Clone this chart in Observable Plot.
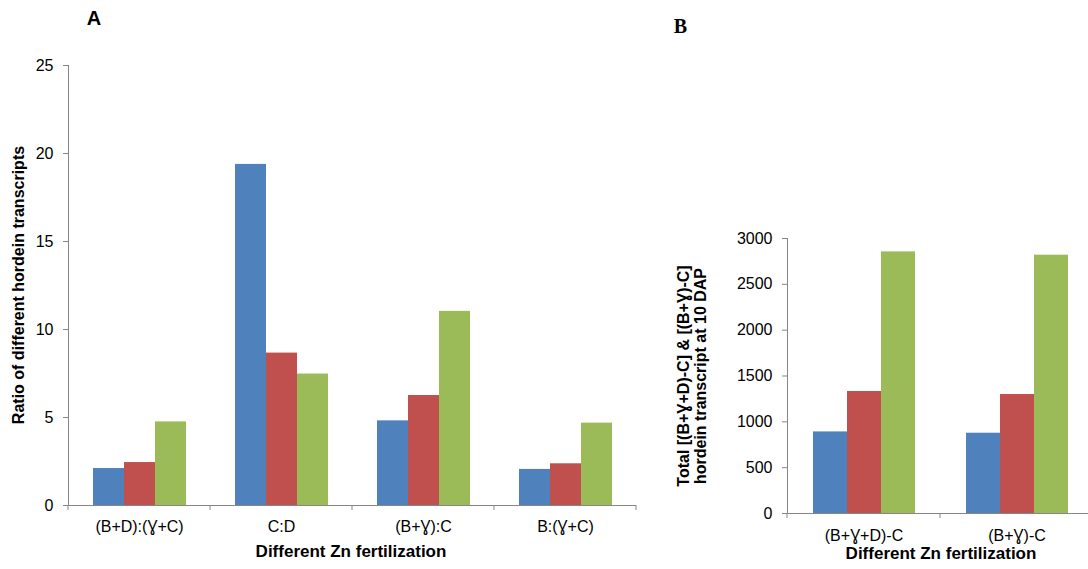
<!DOCTYPE html>
<html>
<head>
<meta charset="utf-8">
<script src="https://cdn.jsdelivr.net/npm/d3@7"></script>
<script src="https://cdn.jsdelivr.net/npm/@observablehq/plot@0.6"></script>
<style>
  html, body { margin: 0; padding: 0; background: #fff; overflow: hidden; }
  #wrap { position: relative; width: 1088px; height: 569px; overflow: hidden; background: #fff; }
  #wrap svg.plot { position: absolute; top: 0; }
  #wrap g[aria-label="y-axis tick label"], #wrap g[aria-label="fx-axis tick label"] { fill: #000; }
  #overlay { position: absolute; left: 0; top: 0; pointer-events: none; }
</style>
</head>
<body>
<div id="wrap"></div>
<script>
// ---- Data ----
const seriesNames = ["Series 1", "Series 2", "Series 3"];
const seriesColors = ["#4F81BD", "#C0504D", "#9BBB59"];

// Panel A: ratio of different hordein transcripts
const categoriesA = ["(B+D):(Ɣ+C)", "C:D", "(B+Ɣ):C", "B:(Ɣ+C)"];
const series1A = [2.10, 19.38, 4.81, 2.05];
const series2A = [2.44, 8.66, 6.25, 2.37];
const series3A = [4.75, 7.47, 11.03, 4.68];
const yTicksA = [0, 5, 10, 15, 20, 25];

// Panel B: total hordein transcript at 10 DAP
const categoriesB = ["(B+Ɣ+D)-C", "(B+Ɣ)-C"];
const series1B = [890, 876];
const series2B = [1331, 1298];
const series3B = [2854, 2818];
const yTicksB = [0, 500, 1000, 1500, 2000, 2500, 3000];

const gray = "#868686";
const sans = "'Liberation Sans', Arial, Helvetica, sans-serif";

function toRows(cats, s1, s2, s3) {
  return cats.flatMap((c, i) => [
    {cat: c, series: seriesNames[0], value: s1[i]},
    {cat: c, series: seriesNames[1], value: s2[i]},
    {cat: c, series: seriesNames[2], value: s3[i]}
  ]);
}

function makeChart(o) {
  const rows = toRows(o.cats, o.s1, o.s2, o.s3);
  const plot = Plot.plot({
    width: o.width, height: o.height,
    marginTop: o.mt, marginBottom: o.mb, marginLeft: o.ml, marginRight: o.mr,
    style: {fontFamily: sans, fontSize: "16px", color: gray, background: "transparent", overflow: "visible"},
    fx: {domain: o.cats, padding: 0, axis: "bottom", label: null, tickSize: 0, tickPadding: o.catPad},
    x: {domain: seriesNames, paddingInner: 0, paddingOuter: 0.75, axis: null},
    y: {domain: [0, o.yMax], ticks: o.yTicks, tickFormat: d => String(d), tickSize: 5, tickPadding: 10, label: null, line: true},
    color: {domain: seriesNames, range: seriesColors},
    marks: [
      Plot.barY(rows, {fx: "cat", x: "series", y: "value", fill: "series"}),
      Plot.ruleY([0], {stroke: gray})
    ]
  });
  plot.classList.add("plot");
  // category boundary tick marks below the baseline
  const fx = plot.scale("fx"), y = plot.scale("y");
  const y0 = y.apply(0);
  const xs = fx.domain.map(d => fx.apply(d));
  xs.push(xs[xs.length - 1] + fx.bandwidth);
  d3.select(plot).append("g").attr("stroke", gray)
    .selectAll("line").data(xs).join("line")
    .attr("x1", d => d).attr("x2", d => d).attr("y1", y0).attr("y2", y0 + 5);
  plot.style.left = o.left + "px";
  return plot;
}

const wrap = document.getElementById("wrap");

wrap.appendChild(makeChart({
  cats: categoriesA, s1: series1A, s2: series2A, s3: series3A,
  yMax: 25, yTicks: yTicksA,
  width: 660, height: 569, mt: 65, mb: 64, ml: 67, mr: 23, catPad: 15, left: 0
}));

wrap.appendChild(makeChart({
  cats: categoriesB, s1: series1B, s2: series2B, s3: series3B,
  yMax: 3000, yTicks: yTicksB,
  width: 453, height: 569, mt: 238, mb: 56, ml: 147, mr: 0, catPad: 16, left: 640
}));

// ---- Text overlay (panel letters and axis titles) ----
const ov = d3.select(wrap).append("svg").attr("id", "overlay")
  .attr("width", 1088).attr("height", 569);

ov.append("text").attr("x", 94).attr("y", 25).attr("text-anchor", "middle")
  .attr("font-family", sans).attr("font-weight", "bold").attr("font-size", 20).text("A");
ov.append("text").attr("x", 680.5).attr("y", 33).attr("text-anchor", "middle")
  .attr("font-family", "'Liberation Serif', 'Times New Roman', serif").attr("font-weight", "bold").attr("font-size", 20).text("B");

ov.append("text").attr("transform", "translate(24,285) rotate(-90)").attr("text-anchor", "middle")
  .attr("font-family", sans).attr("font-weight", "bold").attr("font-size", 16)
  .text("Ratio of different hordein transcripts");

ov.append("text").attr("transform", "translate(688.5,376) rotate(-90)").attr("text-anchor", "middle")
  .attr("font-family", sans).attr("font-weight", "bold").attr("font-size", 16)
  .text("Total [(B+Ɣ+D)-C] & [(B+Ɣ)-C]");
ov.append("text").attr("transform", "translate(705.5,376) rotate(-90)").attr("text-anchor", "middle")
  .attr("font-family", sans).attr("font-weight", "bold").attr("font-size", 16)
  .text("hordein transcript at 10 DAP");

ov.append("text").attr("x", 351).attr("y", 557).attr("text-anchor", "middle")
  .attr("font-family", sans).attr("font-weight", "bold").attr("font-size", 17)
  .text("Different Zn fertilization");
ov.append("text").attr("x", 941).attr("y", 559).attr("text-anchor", "middle")
  .attr("font-family", sans).attr("font-weight", "bold").attr("font-size", 17)
  .text("Different Zn fertilization");
</script>
</body>
</html>
